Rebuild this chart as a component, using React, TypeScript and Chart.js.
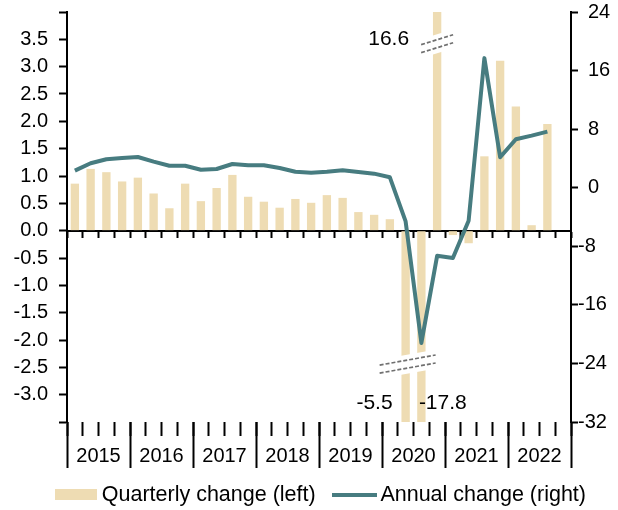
import React, { useEffect, useRef } from "react";
import { Chart, registerables } from "chart.js";

Chart.register(...registerables);

const years = ["2015", "2016", "2017", "2018", "2019", "2020", "2021", "2022"];
const quarterNames = ["Q1", "Q2", "Q3", "Q4"];
const quarters = years.flatMap((y) => quarterNames.map((q) => `${y} ${q}`));

// Quarterly change, % (left axis)
const quarterlyChange: (number | null)[] = [
  0.86, 1.13, 1.07, 0.9,
  0.97, 0.68, 0.41, 0.86,
  0.54, 0.78, 1.02, 0.62,
  0.53, 0.42, 0.58, 0.51,
  0.65, 0.6, 0.34, 0.29,
  0.21, -5.5, -17.8, 16.6,
  -0.08, -0.23, 1.36, 3.11,
  2.27, 0.1, 1.95, null,
];

// Annual change, % (right axis)
const annualChange: (number | null)[] = [
  2.33, 3.34, 3.89, 4.06,
  4.2, 3.56, 3.0, 3.0,
  2.46, 2.56, 3.24, 3.06,
  3.06, 2.7, 2.19, 2.05,
  2.19, 2.38, 2.15, 1.92,
  1.42, -4.6, -21.2, -9.3,
  -9.6, -4.5, 17.7, 4.16,
  6.62, 7.11, 7.66, null,
];

const leftAxis = { min: -3.5, max: 4, step: 0.5 };
const rightAxis = { min: -32, max: 24, step: 8 };
const hiddenLeftTicks = [4, -3.5];

const seriesNames = ["Quarterly change (left)", "Annual change (right)"];

const barColor = "#eedcb3";
const lineColor = "#477c80";
const FONT = '"Liberation Sans", Arial, sans-serif';

function makeSwatch(w: number, h: number, color: string): HTMLCanvasElement {
  const c = document.createElement("canvas");
  c.width = w;
  c.height = h;
  const g = c.getContext("2d")!;
  g.fillStyle = color;
  g.fillRect(0, 0, w, h);
  return c;
}

const annotationPlugin = {
  id: "breaksAndLabels",
  afterLayout(chart: any) {
    if (chart.legend) {
      chart.legend.left = 37;
    }
  },
  afterDatasetsDraw(chart: any) {
    const ctx = chart.ctx as CanvasRenderingContext2D;
    const xs = chart.scales.x;
    const ys = chart.scales.y;
    const drawBreak = (cx: number, cy: number, w: number, k: number) => {
      const h = 9.5;
      ctx.save();
      ctx.fillStyle = "#ffffff";
      ctx.beginPath();
      ctx.moveTo(cx - w / 2, cy - h - (k * w) / 2);
      ctx.lineTo(cx + w / 2, cy - h + (k * w) / 2);
      ctx.lineTo(cx + w / 2, cy + h + (k * w) / 2);
      ctx.lineTo(cx - w / 2, cy + h - (k * w) / 2);
      ctx.closePath();
      ctx.fill();
      ctx.strokeStyle = "#707070";
      ctx.lineWidth = 1.7;
      ctx.setLineDash([4, 2]);
      for (const off of [-4, 4]) {
        const hw = w / 2 - 2;
        ctx.beginPath();
        ctx.moveTo(cx - hw, cy + off - k * hw);
        ctx.lineTo(cx + hw, cy + off + k * hw);
        ctx.stroke();
      }
      ctx.restore();
    };
    drawBreak(xs.getPixelForValue(23), ys.getPixelForValue(3.42), 36, -0.31);
    drawBreak(xs.getPixelForValue(21) + 2, ys.getPixelForValue(-2.44), 60, -0.18);
  },
  afterDraw(chart: any) {
    const ctx = chart.ctx as CanvasRenderingContext2D;
    const xs = chart.scales.x;
    const ys = chart.scales.y;
    ctx.save();
    ctx.font = `21px ${FONT}`;
    ctx.fillStyle = "#000";
    ctx.textBaseline = "middle";
    const fmt = (i: number) => (quarterlyChange[i] as number).toFixed(1);
    ctx.textAlign = "right";
    ctx.fillText(fmt(23), xs.getPixelForValue(23) - 28, ys.getPixelForValue(3.5));
    ctx.fillText(fmt(21), xs.getPixelForValue(21) - 13, ys.getPixelForValue(-3.16));
    ctx.textAlign = "left";
    ctx.fillText(fmt(22), xs.getPixelForValue(22) - 2.5, ys.getPixelForValue(-3.16));
    ctx.restore();
  },
};

export default function App() {
  const ref = useRef<HTMLCanvasElement | null>(null);

  useEffect(() => {
    if (!ref.current) return;
    const tickFont = { family: FONT, size: 20 };
    const barSwatch = makeSwatch(42, 11, barColor);
    const lineSwatch = makeSwatch(45, 4, lineColor);
    const chart = new Chart(ref.current, {
      type: "bar",
      data: {
        labels: quarters,
        datasets: [
          {
            type: "bar",
            label: seriesNames[0],
            data: quarterlyChange,
            backgroundColor: barColor,
            borderWidth: 0,
            xAxisID: "x",
            yAxisID: "y",
            barPercentage: 0.53,
            categoryPercentage: 1,
            order: 2,
            clip: 0,
          } as any,
          {
            type: "line",
            label: seriesNames[1],
            data: annualChange,
            borderColor: lineColor,
            backgroundColor: lineColor,
            borderWidth: 4,
            pointRadius: 0,
            pointHoverRadius: 0,
            pointBorderWidth: 4,
            tension: 0,
            borderJoinStyle: "round",
            xAxisID: "x",
            yAxisID: "y1",
            order: 1,
          } as any,
        ],
      },
      options: {
        responsive: false,
        animation: false,
        devicePixelRatio: 1,
        layout: { padding: { top: 12, left: 0, right: 0, bottom: 0 } },
        plugins: {
          tooltip: { enabled: false },
          legend: {
            position: "bottom",
            align: "start",
            maxHeight: 50,
            labels: {
              usePointStyle: true,
              pointStyleWidth: 30,
              boxHeight: 11,
              padding: 24,
              color: "#000",
              font: { family: FONT, size: 21.5 },
              generateLabels: (c: any) => {
                const items = (Chart.defaults.plugins.legend.labels as any).generateLabels(c);
                items.forEach((it: any) => {
                  it.pointStyle = it.datasetIndex === 0 ? barSwatch : lineSwatch;
                  it.lineWidth = 0;
                });
                return items.sort((a: any, b: any) => a.datasetIndex - b.datasetIndex);
              },
            },
          },
        },
        scales: {
          x: {
            type: "category",
            axis: "x",
            position: { y: 0 } as any,
            offset: true,
            z: 1,
            grid: {
              display: true,
              drawOnChartArea: false,
              offset: true,
              tickLength: 6,
              tickWidth: 2,
              tickColor: "#000",
            },
            border: { display: true, color: "#000", width: 2 },
            ticks: { display: false },
          },
          xq: {
            type: "category",
            axis: "x",
            position: "bottom",
            offset: true,
            grid: {
              display: true,
              drawOnChartArea: false,
              offset: true,
              tickLength: 14,
              tickWidth: 2,
              tickColor: "#000",
            },
            border: { display: false },
            ticks: { display: false },
            afterFit: (s: any) => {
              s.height = 38;
              s.paddingLeft = 0;
              s.paddingRight = 0;
            },
          } as any,
          xYear: {
            type: "category",
            axis: "x",
            labels: years,
            position: { y: leftAxis.min } as any,
            offset: true,
            grid: {
              display: true,
              drawOnChartArea: false,
              offset: true,
              tickLength: 46,
              tickWidth: 2,
              tickColor: "#000",
            },
            border: { display: false },
            ticks: {
              display: true,
              padding: -24,
              autoSkip: false,
              maxRotation: 0,
              color: "#000",
              font: tickFont,
            },
            afterFit: (s: any) => {
              s.paddingLeft = 0;
              s.paddingRight = 0;
            },
          } as any,
          y: {
            type: "linear",
            position: "left",
            min: leftAxis.min,
            max: leftAxis.max,
            grid: {
              drawOnChartArea: false,
              tickLength: 8,
              tickWidth: 2,
              tickColor: "#000",
            },
            border: { color: "#000", width: 2 },
            ticks: {
              stepSize: leftAxis.step,
              autoSkip: false,
              padding: 11,
              color: "#000",
              font: tickFont,
              callback: (v: any) =>
                hiddenLeftTicks.includes(Number(v)) ? "" : Number(v).toFixed(1),
            },
            afterFit: (s: any) => {
              s.width = 67;
              s.paddingTop = 0;
              s.paddingBottom = 0;
            },
          } as any,
          y1: {
            type: "linear",
            position: "right",
            min: rightAxis.min,
            max: rightAxis.max,
            grid: {
              drawOnChartArea: false,
              tickLength: 7,
              tickWidth: 2,
              tickColor: "#000",
            },
            border: { color: "#000", width: 2 },
            ticks: {
              stepSize: rightAxis.step,
              autoSkip: false,
              padding: 0,
              color: "#000",
              font: tickFont,
              callback: (v: any) => (Number(v) < 0 ? String(v) : "\u2002" + String(v)),
            },
            afterFit: (s: any) => {
              s.width = 47;
              s.paddingTop = 0;
              s.paddingBottom = 0;
            },
          } as any,
        },
      } as any,
      plugins: [annotationPlugin],
    });
    return () => chart.destroy();
  }, []);

  return (
    <div
      style={{
        position: "fixed",
        left: 0,
        top: 0,
        width: 618,
        height: 510,
        background: "#fff",
      }}
    >
      <canvas ref={ref} width={618} height={510} style={{ display: "block", width: 618, height: 510 }} />
    </div>
  );
}
